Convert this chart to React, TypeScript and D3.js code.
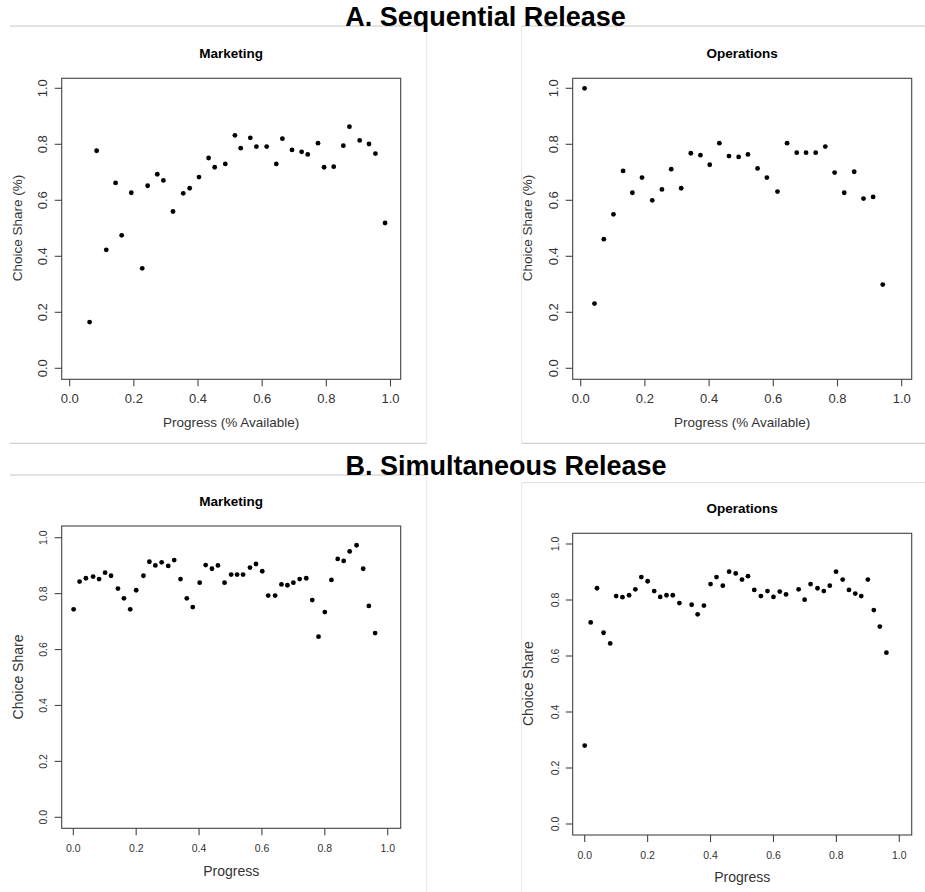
import React from "react";
import * as d3 from "d3";

// ---- Data ----
const seqMarketingX = [0.062, 0.084, 0.114, 0.143, 0.162, 0.192, 0.226, 0.243, 0.273, 0.292, 0.322, 0.354, 0.374, 0.403, 0.433, 0.452, 0.485, 0.515, 0.533, 0.563, 0.582, 0.614, 0.644, 0.663, 0.693, 0.723, 0.742, 0.774, 0.793, 0.823, 0.853, 0.872, 0.904, 0.933, 0.953, 0.983];
const seqMarketingY = [0.165, 0.777, 0.423, 0.662, 0.475, 0.627, 0.357, 0.652, 0.693, 0.671, 0.56, 0.625, 0.643, 0.683, 0.751, 0.718, 0.73, 0.832, 0.786, 0.823, 0.792, 0.792, 0.73, 0.82, 0.78, 0.773, 0.764, 0.804, 0.718, 0.72, 0.795, 0.863, 0.814, 0.801, 0.767, 0.519];

const seqOperationsX = [0.012, 0.043, 0.072, 0.102, 0.132, 0.161, 0.191, 0.223, 0.253, 0.282, 0.313, 0.343, 0.373, 0.402, 0.432, 0.462, 0.492, 0.521, 0.551, 0.58, 0.613, 0.643, 0.673, 0.702, 0.732, 0.762, 0.791, 0.821, 0.852, 0.881, 0.911, 0.941];
const seqOperationsY = [1.0, 0.231, 0.461, 0.55, 0.705, 0.627, 0.681, 0.6, 0.639, 0.711, 0.643, 0.768, 0.761, 0.727, 0.804, 0.758, 0.755, 0.764, 0.714, 0.681, 0.631, 0.804, 0.77, 0.77, 0.77, 0.792, 0.699, 0.627, 0.702, 0.606, 0.612, 0.299];

const simMarketingX = [0.001, 0.02, 0.04, 0.063, 0.082, 0.101, 0.12, 0.142, 0.161, 0.181, 0.2, 0.223, 0.242, 0.261, 0.281, 0.302, 0.321, 0.341, 0.361, 0.38, 0.402, 0.421, 0.441, 0.46, 0.481, 0.502, 0.521, 0.54, 0.562, 0.581, 0.601, 0.62, 0.642, 0.662, 0.681, 0.7, 0.72, 0.741, 0.76, 0.78, 0.8, 0.821, 0.841, 0.86, 0.879, 0.901, 0.922, 0.94, 0.96];
const simMarketingY = [0.744, 0.843, 0.855, 0.861, 0.852, 0.875, 0.864, 0.818, 0.783, 0.744, 0.812, 0.864, 0.914, 0.901, 0.912, 0.899, 0.92, 0.852, 0.783, 0.752, 0.839, 0.902, 0.889, 0.901, 0.839, 0.868, 0.868, 0.868, 0.893, 0.906, 0.88, 0.793, 0.793, 0.833, 0.83, 0.839, 0.852, 0.855, 0.777, 0.646, 0.734, 0.849, 0.924, 0.917, 0.951, 0.973, 0.889, 0.756, 0.659];

const simOperationsX = [0.0, 0.019, 0.039, 0.06, 0.081, 0.1, 0.12, 0.141, 0.161, 0.18, 0.2, 0.221, 0.24, 0.26, 0.28, 0.301, 0.34, 0.359, 0.379, 0.4, 0.419, 0.439, 0.459, 0.48, 0.5, 0.519, 0.539, 0.56, 0.581, 0.6, 0.62, 0.64, 0.68, 0.699, 0.718, 0.74, 0.76, 0.779, 0.799, 0.82, 0.84, 0.86, 0.879, 0.9, 0.919, 0.938, 0.959];
const simOperationsY = [0.28, 0.72, 0.842, 0.683, 0.645, 0.814, 0.81, 0.817, 0.838, 0.882, 0.867, 0.832, 0.811, 0.817, 0.817, 0.789, 0.783, 0.749, 0.78, 0.857, 0.882, 0.851, 0.901, 0.895, 0.873, 0.885, 0.836, 0.814, 0.832, 0.811, 0.83, 0.82, 0.838, 0.801, 0.857, 0.842, 0.832, 0.851, 0.901, 0.873, 0.836, 0.823, 0.814, 0.873, 0.764, 0.705, 0.612];

const tickValues = [0, 0.2, 0.4, 0.6, 0.8, 1.0];
const sectionTitles = ["A. Sequential Release", "B. Simultaneous Release"];
const panelTitles = ["Marketing", "Operations"];
const xLabels = ["Progress (% Available)", "Progress"];
const yLabels = ["Choice Share (%)", "Choice Share"];

const FONT = "'Liberation Sans', Arial, Helvetica, sans-serif";

interface PanelSpec {
  title: string;
  xs: number[];
  ys: number[];
  box: [number, number, number, number]; // x1, x2, y1, y2
  xRange: [number, number];
  yRange: [number, number];
  titleY: number;
  xLabel: string;
  xLabelY: number;
  yLabel: string;
  yLabelX: number;
  yLabelCY: number;
  xTickY: number;
  yTickX: number;
  tickFont: number;
  labelFont: number;
}

const panels: PanelSpec[] = [
  {
    title: panelTitles[0], xs: seqMarketingX, ys: seqMarketingY,
    box: [61.7, 400.7, 78.3, 379.3], xRange: [69.7, 390.5], yRange: [368.3, 88.3],
    titleY: 57.5, xLabel: xLabels[0], xLabelY: 427, yLabel: yLabels[0], yLabelX: 21.5, yLabelCY: 228,
    xTickY: 403, yTickX: 46.5, tickFont: 13, labelFont: 13.5,
  },
  {
    title: panelTitles[1], xs: seqOperationsX, ys: seqOperationsY,
    box: [572.7, 911.7, 78.3, 379.3], xRange: [580.7, 901.7], yRange: [368.3, 88.3],
    titleY: 57.5, xLabel: xLabels[0], xLabelY: 427, yLabel: yLabels[0], yLabelX: 532, yLabelCY: 228,
    xTickY: 403, yTickX: 557.5, tickFont: 13, labelFont: 13.5,
  },
  {
    title: panelTitles[0], xs: simMarketingX, ys: simMarketingY,
    box: [61.7, 400.7, 526, 828.3], xRange: [73.3, 387.7], yRange: [817.3, 537.7],
    titleY: 506, xLabel: xLabels[1], xLabelY: 875.7, yLabel: yLabels[1], yLabelX: 22.5, yLabelCY: 677,
    xTickY: 852.3, yTickX: 46.5, tickFont: 10.5, labelFont: 14,
  },
  {
    title: panelTitles[1], xs: simOperationsX, ys: simOperationsY,
    box: [572.7, 911.7, 533.3, 835], xRange: [584.7, 899.3], yRange: [824, 544],
    titleY: 512.7, xLabel: xLabels[1], xLabelY: 882.3, yLabel: yLabels[1], yLabelX: 533.3, yLabelCY: 683.7,
    xTickY: 859, yTickX: 559, tickFont: 10.5, labelFont: 14,
  },
];

const fmt = d3.format(".1f");

function Panel({ p }: { p: PanelSpec }) {
  const x = d3.scaleLinear().domain([0, 1]).range(p.xRange);
  const y = d3.scaleLinear().domain([0, 1]).range(p.yRange);
  const [bx1, bx2, by1, by2] = p.box;
  const cx = (bx1 + bx2) / 2;
  return (
    <g>
      <text x={cx} y={p.titleY} textAnchor="middle" fontFamily={FONT} fontWeight="bold" fontSize={13.5} fill="#000">
        {p.title}
      </text>
      <rect x={bx1} y={by1} width={bx2 - bx1} height={by2 - by1} fill="none" stroke="#444" strokeWidth={1.1} />
      {tickValues.map((t) => (
        <g key={"x" + t}>
          <line x1={x(t)} x2={x(t)} y1={by2} y2={by2 + 7} stroke="#444" strokeWidth={1.1} />
          <text x={x(t)} y={p.xTickY} textAnchor="middle" fontFamily={FONT} fontSize={p.tickFont} fill="#333">
            {fmt(t)}
          </text>
        </g>
      ))}
      {tickValues.map((t) => (
        <g key={"y" + t}>
          <line x1={bx1 - 7} x2={bx1} y1={y(t)} y2={y(t)} stroke="#444" strokeWidth={1.1} />
          <text
            transform={`translate(${p.yTickX},${y(t)}) rotate(-90)`}
            textAnchor="middle" fontFamily={FONT} fontSize={p.tickFont} fill="#333"
          >
            {fmt(t)}
          </text>
        </g>
      ))}
      <text x={cx} y={p.xLabelY} textAnchor="middle" fontFamily={FONT} fontSize={p.labelFont} fill="#333">
        {p.xLabel}
      </text>
      <text
        transform={`translate(${p.yLabelX},${p.yLabelCY}) rotate(-90)`}
        textAnchor="middle" fontFamily={FONT} fontSize={p.labelFont} fill="#333"
      >
        {p.yLabel}
      </text>
      {p.xs.map((v, i) => (
        <circle key={i} cx={x(v)} cy={y(p.ys[i])} r={2.4} fill="#000" />
      ))}
    </g>
  );
}

export default function App() {
  const W = 925;
  const H = 892;
  return (
    <svg
      width={W}
      height={H}
      viewBox={`0 0 ${W} ${H}`}
      style={{ position: "absolute", left: 0, top: 0, background: "#fff" }}
    >
      <rect x={0} y={0} width={W} height={H} fill="#fff" />
      {/* panel frames */}
      <g fill="none">
        <line x1={10} x2={426.7} y1={26} y2={26} stroke="#c6c6c6" />
        <line x1={521.7} x2={925} y1={26} y2={26} stroke="#c6c6c6" />
        <line x1={10} x2={426.7} y1={443.3} y2={443.3} stroke="#c6c6c6" />
        <line x1={521.7} x2={925} y1={443.3} y2={443.3} stroke="#c6c6c6" />
        <line x1={426.7} x2={426.7} y1={26} y2={443.3} stroke="#e6e6e6" />
        <line x1={521.7} x2={521.7} y1={26} y2={443.3} stroke="#e6e6e6" />
        <line x1={10} x2={426.7} y1={475} y2={475} stroke="#c6c6c6" />
        <line x1={521.7} x2={925} y1={482.7} y2={482.7} stroke="#dcdcdc" />
        <line x1={426.7} x2={426.7} y1={475} y2={892} stroke="#e6e6e6" />
        <line x1={521.7} x2={521.7} y1={482.7} y2={892} stroke="#e6e6e6" />
      </g>
      <text x={485.5} y={26} textAnchor="middle" fontFamily={FONT} fontWeight="bold" fontSize={27} fill="#000">
        {sectionTitles[0]}
      </text>
      <text x={506} y={475} textAnchor="middle" fontFamily={FONT} fontWeight="bold" fontSize={27} fill="#000">
        {sectionTitles[1]}
      </text>
      {panels.map((p, i) => (
        <Panel key={i} p={p} />
      ))}
    </svg>
  );
}
